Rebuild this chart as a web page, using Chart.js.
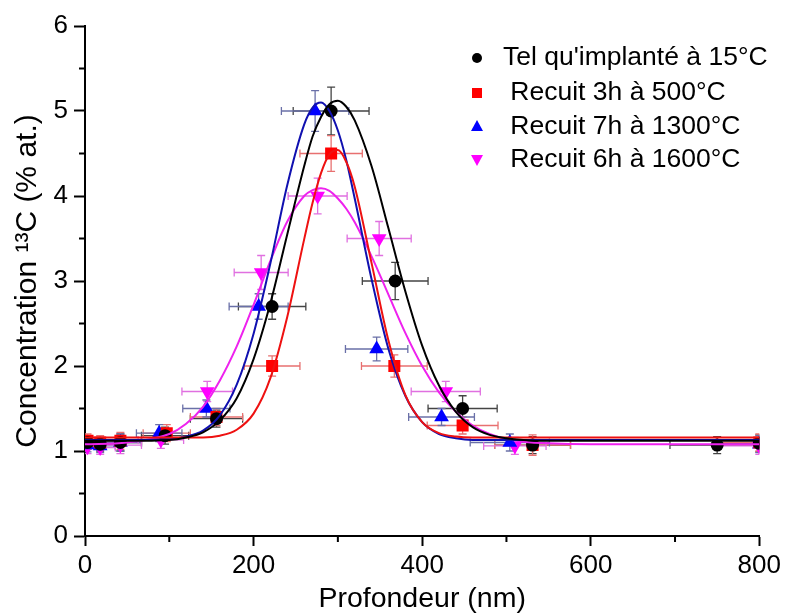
<!DOCTYPE html>
<html>
<head>
<meta charset="utf-8">
<script src="https://cdn.jsdelivr.net/npm/chart.js@4.4.1/dist/chart.umd.min.js"></script>
<style>
  html, body { margin: 0; padding: 0; background: #fff; }
  #wrap { width: 785px; height: 616px; position: relative; }
</style>
</head>
<body>
<div id="wrap"><canvas id="profil"></canvas></div>
<script>
/* ---- measured points (depth nm, concentration % at., error bars) ---- */
const depthBlack = [3, 18, 42, 95, 156, 222, 292, 368, 448, 531, 750, 800];
const concBlack  = [1.10, 1.08, 1.10, 1.18, 1.38, 2.70, 5.00, 3.00, 1.50, 1.07, 1.07, 1.09];
const xErrBlack  = [15, 18, 25, 28, 31, 40, 45, 39, 41, 45, 56, 50];
const yErrBlack  = [0.08, 0.08, 0.10, 0.10, 0.10, 0.15, 0.28, 0.22, 0.15, 0.10, 0.10, 0.10];

const depthRed = [3, 18, 42, 97, 156, 222, 292, 367, 448, 531, 800];
const concRed  = [1.12, 1.10, 1.12, 1.21, 1.40, 2.00, 4.50, 2.00, 1.30, 1.07, 1.10];
const xErrRed  = [15, 18, 25, 28, 31, 33, 37, 39, 42, 45, 50];
const yErrRed  = [0.08, 0.08, 0.10, 0.10, 0.10, 0.12, 0.21, 0.13, 0.10, 0.12, 0.10];

const depthBlue = [3, 18, 42, 88, 144, 206, 273, 346, 423, 504, 800];
const concBlue  = [1.07, 1.06, 1.10, 1.21, 1.50, 2.70, 5.00, 2.20, 1.40, 1.10, 1.08];
const xErrBlue  = [15, 18, 25, 27, 28, 35, 40, 37, 39, 47, 50];
const yErrBlue  = [0.08, 0.08, 0.10, 0.10, 0.10, 0.15, 0.24, 0.14, 0.10, 0.10, 0.10];

const depthMag = [3, 18, 42, 90, 145, 209, 276, 349, 428, 510, 800];
const concMag  = [1.05, 1.04, 1.07, 1.13, 1.70, 3.10, 4.00, 3.50, 1.70, 1.06, 1.06];
const xErrMag  = [15, 18, 25, 27, 30, 32, 35, 38, 41, 37, 50];
const yErrMag  = [0.08, 0.08, 0.10, 0.10, 0.12, 0.20, 0.21, 0.20, 0.12, 0.10, 0.10];

/* ---- fitted curves ---- */
const curveDepth = [0, 50, 100, 120, 140, 160, 180, 200, 220, 240, 260, 270, 280, 290, 300, 310, 320, 340, 360, 380, 400, 420, 440, 460, 480, 500, 520, 550, 600, 700, 800];
const curveBlack = [1.12, 1.12, 1.13, 1.16, 1.22, 1.36, 1.62, 2.08, 2.74, 3.55, 4.35, 4.70, 4.93, 5.08, 5.12, 5.05, 4.89, 4.35, 3.62, 2.88, 2.24, 1.77, 1.46, 1.28, 1.19, 1.15, 1.13, 1.12, 1.12, 1.12, 1.12];
const curveRed   = [1.16, 1.16, 1.16, 1.16, 1.16, 1.18, 1.25, 1.44, 1.86, 2.58, 3.49, 3.92, 4.27, 4.49, 4.54, 4.40, 4.11, 3.21, 2.30, 1.66, 1.34, 1.21, 1.17, 1.16, 1.16, 1.16, 1.16, 1.16, 1.16, 1.16, 1.16];
const curveBlue  = [1.13, 1.13, 1.14, 1.17, 1.24, 1.42, 1.78, 2.38, 3.21, 4.13, 4.84, 5.04, 5.10, 5.00, 4.77, 4.42, 3.97, 3.02, 2.20, 1.65, 1.34, 1.20, 1.15, 1.13, 1.13, 1.13, 1.13, 1.13, 1.13, 1.13, 1.13];
const curveMag   = [1.08, 1.10, 1.20, 1.32, 1.52, 1.83, 2.23, 2.72, 3.24, 3.70, 4.00, 4.07, 4.09, 4.06, 3.97, 3.85, 3.69, 3.29, 2.84, 2.39, 2.00, 1.69, 1.46, 1.30, 1.20, 1.14, 1.11, 1.09, 1.08, 1.08, 1.08];

const seriesLabels = ["Tel qu'implanté à 15°C", " Recuit 3h à 500°C", " Recuit 7h à 1300°C", " Recuit 6h à 1600°C"];
const xTicks = [0, 200, 400, 600, 800];
const yTicks = [0, 1, 2, 3, 4, 5, 6];

const FONT = '"Liberation Sans", Arial, sans-serif';

const toPts = (xs, ys) => xs.map((x, i) => ({ x: x, y: ys[i] }));

function pointSet(label, xs, ys, ex, ey, color, barColor, style, radius, rotation) {
    return {
        label: label, data: toPts(xs, ys), errX: ex, errY: ey, barColor: barColor,
        pointStyle: style, pointRadius: radius, pointRotation: rotation || 0,
        backgroundColor: color, borderColor: color, borderWidth: 0, showLine: false, order: 1
    };
}

function curveSet(ys, color) {
    return {
        label: '', data: toPts(curveDepth, ys), showLine: true, pointRadius: 0,
        borderColor: color, borderWidth: 2, cubicInterpolationMode: 'monotone', fill: false, order: 0
    };
}

// error bars, drawn under the markers
const errorBars = {
    id: 'errorBars',
    beforeDatasetsDraw(chart) {
        const { ctx, chartArea: a, scales: { x, y } } = chart;
        ctx.save();
        ctx.beginPath();
        ctx.rect(a.left, a.top - 10, a.right - a.left, a.bottom - a.top + 10);
        ctx.clip();
        chart.data.datasets.forEach(ds => {
            if (!ds.errX) return;
            ctx.strokeStyle = ds.barColor;
            ctx.lineWidth = 1.3;
            ds.data.forEach((p, i) => {
                const px = x.getPixelForValue(p.x), py = y.getPixelForValue(p.y);
                const x0 = x.getPixelForValue(p.x - ds.errX[i]), x1 = x.getPixelForValue(p.x + ds.errX[i]);
                const y0 = y.getPixelForValue(p.y - ds.errY[i]), y1 = y.getPixelForValue(p.y + ds.errY[i]);
                const c = 4;
                ctx.beginPath();
                ctx.moveTo(x0, py); ctx.lineTo(x1, py);
                ctx.moveTo(x0, py - c); ctx.lineTo(x0, py + c);
                ctx.moveTo(x1, py - c); ctx.lineTo(x1, py + c);
                ctx.moveTo(px, y0); ctx.lineTo(px, y1);
                ctx.moveTo(px - c, y0); ctx.lineTo(px + c, y0);
                ctx.moveTo(px - c, y1); ctx.lineTo(px + c, y1);
                ctx.stroke();
            });
        });
        ctx.restore();
    }
};

// minor ticks halfway between the labelled ones
const minorTicks = {
    id: 'minorTicks',
    afterDraw(chart) {
        const { ctx, scales: { x, y } } = chart;
        ctx.save();
        ctx.strokeStyle = '#000';
        ctx.lineWidth = 2;
        ctx.beginPath();
        for (let i = 0; i < xTicks.length - 1; i++) {
            const px = x.getPixelForValue((xTicks[i] + xTicks[i + 1]) / 2);
            ctx.moveTo(px, x.top); ctx.lineTo(px, x.top + 6);
        }
        for (let i = 0; i < yTicks.length - 1; i++) {
            const py = y.getPixelForValue((yTicks[i] + yTicks[i + 1]) / 2);
            ctx.moveTo(y.right, py); ctx.lineTo(y.right - 6, py);
        }
        ctx.stroke();
        ctx.restore();
    }
};

// legend inside the plot, top right
const insideLegend = {
    id: 'insideLegend',
    afterDraw(chart) {
        const { ctx } = chart;
        const marks = [
            { color: '#000', shape: 'circle' },
            { color: '#ff0000', shape: 'square' },
            { color: '#0000ff', shape: 'up' },
            { color: '#ff00ff', shape: 'down' }
        ];
        const rows = [57, 92, 126, 159];
        const mx = 477, tx = 503;
        ctx.save();
        ctx.font = '26.5px ' + FONT;
        ctx.textBaseline = 'middle';
        marks.forEach((m, i) => {
            const cy = rows[i];
            ctx.fillStyle = m.color;
            ctx.beginPath();
            if (m.shape === 'circle') ctx.arc(mx, cy + 1, 5, 0, Math.PI * 2);
            else if (m.shape === 'square') ctx.rect(mx - 5, cy - 4, 10, 10);
            else if (m.shape === 'up') { ctx.moveTo(mx, cy - 6); ctx.lineTo(mx + 6, cy + 5); ctx.lineTo(mx - 6, cy + 5); ctx.closePath(); }
            else { ctx.moveTo(mx - 6, cy - 4); ctx.lineTo(mx + 6, cy - 4); ctx.lineTo(mx, cy + 7); ctx.closePath(); }
            ctx.fill();
            ctx.fillStyle = '#000';
            ctx.fillText(seriesLabels[i], tx, cy + 1);
        });
        ctx.restore();
    }
};

new Chart(document.getElementById('profil'), {
    type: 'scatter',
    data: {
        datasets: [
            pointSet(seriesLabels[0], depthBlack, concBlack, xErrBlack, yErrBlack, '#000000', '#444444', 'circle', 6.5),
            pointSet(seriesLabels[1], depthRed, concRed, xErrRed, yErrRed, '#ff0000', '#e87070', 'rect', 8.5),
            pointSet(seriesLabels[2], depthBlue, concBlue, xErrBlue, yErrBlue, '#0000ff', '#6a70a8', 'triangle', 8.5),
            pointSet(seriesLabels[3], depthMag, concMag, xErrMag, yErrMag, '#ff00ff', '#e070e0', 'triangle', 8.5, 180),
            curveSet(curveBlack, '#000000'),
            curveSet(curveRed, '#ee1111'),
            curveSet(curveBlue, '#1010b0'),
            curveSet(curveMag, '#ee22ee')
        ]
    },
    options: {
        responsive: true,
        maintainAspectRatio: false,
        animation: false,
        layout: { padding: { top: 26, right: 24, left: 0, bottom: 0 } },
        plugins: { legend: { display: false }, tooltip: { enabled: false } },
        scales: {
            x: {
                type: 'linear', min: 0, max: 800,
                afterFit: s => { s.height = 80; },
                afterBuildTicks: s => { s.ticks = xTicks.map(v => ({ value: v })); },
                ticks: { color: '#000', font: { family: FONT, size: 26 }, padding: 4, maxRotation: 0 },
                grid: { drawOnChartArea: false, drawTicks: true, tickLength: 10, tickColor: '#000', tickWidth: 2 },
                border: { display: true, color: '#000', width: 2 },
                title: { display: true, text: 'Profondeur (nm)', color: '#000', font: { family: FONT, size: 28.5 }, padding: { top: 0, bottom: 0 } }
            },
            y: {
                type: 'linear', min: 0, max: 6,
                afterFit: s => { s.width = 85; },
                afterBuildTicks: s => { s.ticks = yTicks.map(v => ({ value: v })); },
                ticks: { color: '#000', font: { family: FONT, size: 26 }, padding: 6 },
                grid: { drawOnChartArea: false, drawTicks: true, tickLength: 11, tickColor: '#000', tickWidth: 2 },
                border: { display: true, color: '#000', width: 2 },
                title: { display: true, text: 'Concentration ¹³C (% at.)', color: '#000', font: { family: FONT, size: 30 }, padding: { top: 10, bottom: 0 } }
            }
        }
    },
    plugins: [errorBars, minorTicks, insideLegend]
});
</script>
</body>
</html>
